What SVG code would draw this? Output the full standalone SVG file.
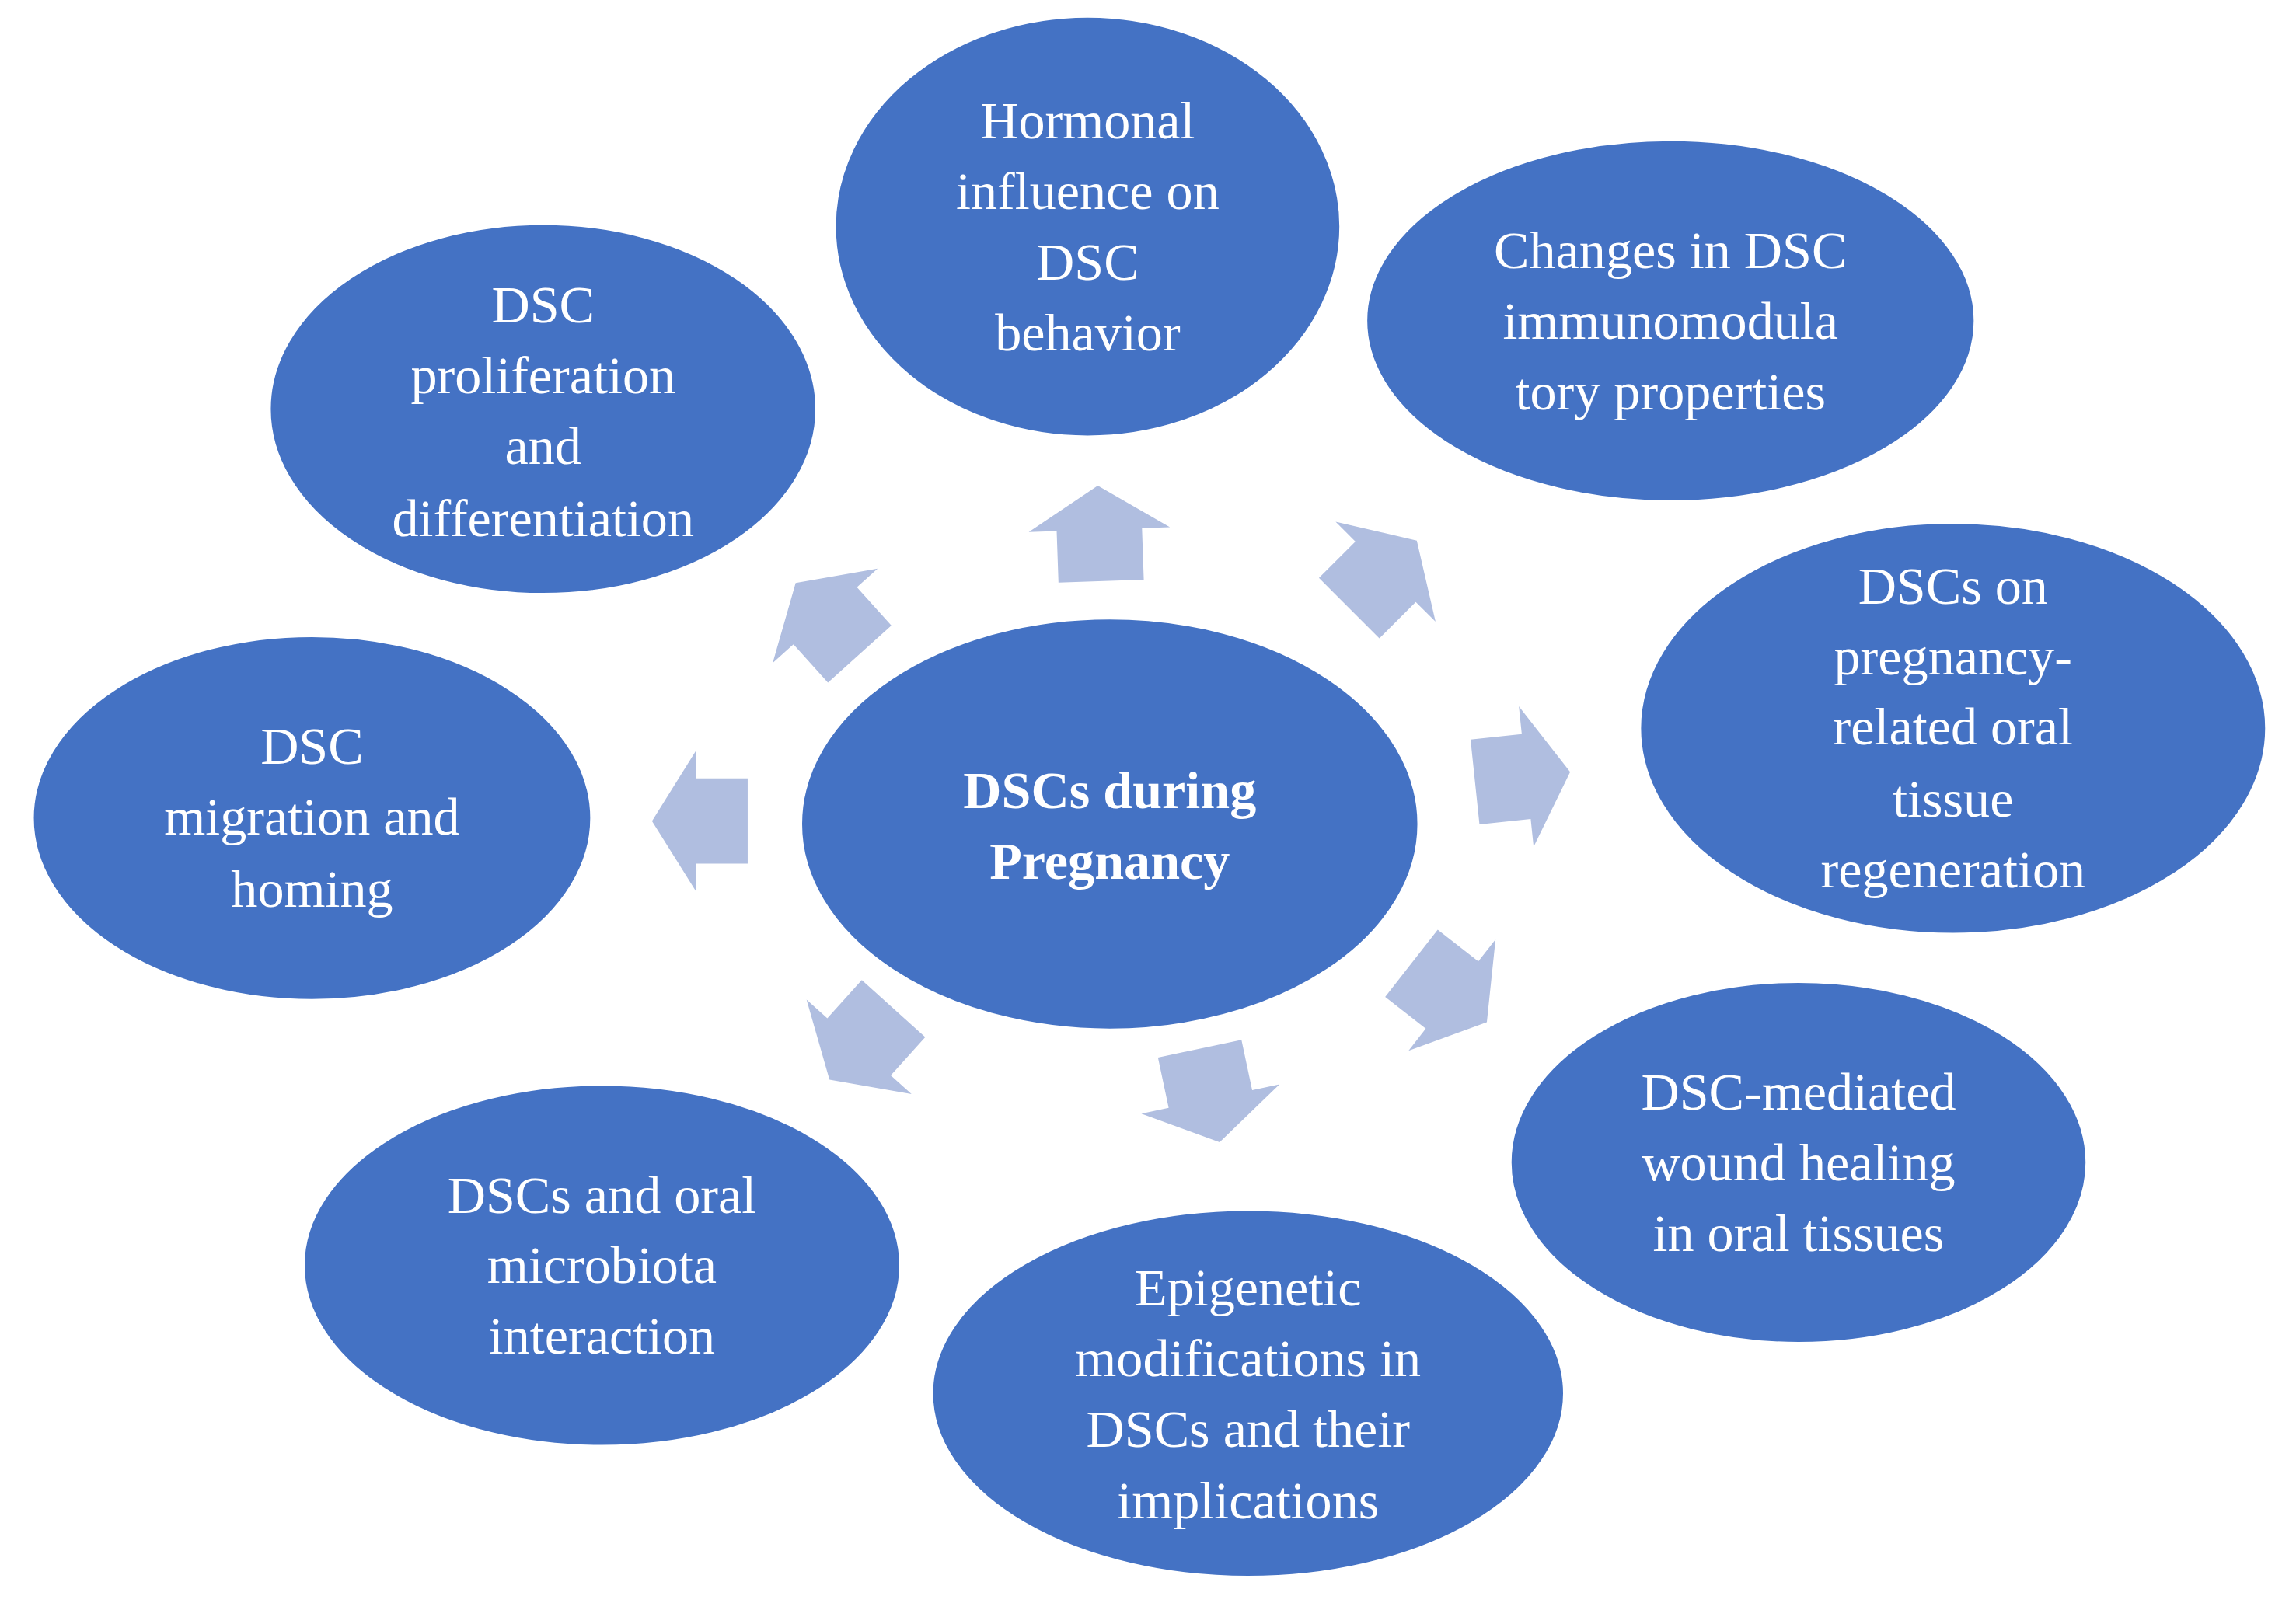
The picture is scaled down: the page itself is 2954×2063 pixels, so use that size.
<svg xmlns="http://www.w3.org/2000/svg" width="2954" height="2063" viewBox="0 0 2954 2063">
<style>
.n{fill:#4472C4;stroke:#fff;stroke-width:2}
.t{fill:#fff;font-family:"Liberation Serif",serif;font-size:36px;text-anchor:middle;dominant-baseline:central}
.b{font-weight:bold}
.a{fill:#B0BEE0}
</style>
<defs><polygon id="arr" points="0,-32 48,-2 29,-2 29,33 -29,33 -29,-2 -48,-2"/></defs>
<rect width="2954" height="2063" fill="#fff"/>
<g transform="scale(1.8936)">
<g id="connectors">
<use href="#arr" class="a" transform="translate(747,362) rotate(-2)"/>
<use href="#arr" class="a" transform="translate(940,390) rotate(45)"/>
<use href="#arr" class="a" transform="translate(1035,528) rotate(84)"/>
<use href="#arr" class="a" transform="translate(985,675) rotate(128)"/>
<use href="#arr" class="a" transform="translate(822,745) rotate(168)"/>
<use href="#arr" class="a" transform="translate(585,710) rotate(222)"/>
<use href="#arr" class="a" transform="translate(475,558) rotate(270)"/>
<use href="#arr" class="a" transform="translate(562,420) rotate(318)"/>
</g>
<g id="center"><ellipse class="n" cx="754" cy="560" rx="210" ry="140"/>
<text class="t b" x="754"><tspan x="754" y="537">DSCs during</tspan><tspan x="754" y="585">Pregnancy</tspan></text></g>
<g id="hormonal"><ellipse class="n" cx="739" cy="154" rx="172" ry="143"/>
<text class="t"><tspan x="739" y="82">Hormonal</tspan><tspan x="739" y="130">influence on</tspan><tspan x="739" y="178">DSC</tspan><tspan x="739" y="226">behavior</tspan></text></g>
<g id="changes"><ellipse class="n" cx="1135" cy="218" rx="207" ry="123"/>
<text class="t"><tspan x="1135" y="170">Changes in DSC</tspan><tspan x="1135" y="218">immunomodula</tspan><tspan x="1135" y="266">tory properties</tspan></text></g>
<g id="regeneration"><ellipse class="n" cx="1327" cy="495" rx="213" ry="140"/>
<text class="t"><tspan x="1327" y="398">DSCs on</tspan><tspan x="1327" y="446">pregnancy-</tspan><tspan x="1327" y="494">related oral</tspan><tspan x="1327" y="543">tissue</tspan><tspan x="1327" y="591">regeneration</tspan></text></g>
<g id="wound"><ellipse class="n" cx="1222" cy="790" rx="196" ry="123"/>
<text class="t"><tspan x="1222" y="742">DSC-mediated</tspan><tspan x="1222" y="790">wound healing</tspan><tspan x="1222" y="838">in oral tissues</tspan></text></g>
<g id="epigenetic"><ellipse class="n" cx="848" cy="947" rx="215" ry="125"/>
<text class="t"><tspan x="848" y="875">Epigenetic</tspan><tspan x="848" y="923">modifications in</tspan><tspan x="848" y="971">DSCs and their</tspan><tspan x="848" y="1020">implications</tspan></text></g>
<g id="microbiota"><ellipse class="n" cx="409" cy="860" rx="203" ry="123"/>
<text class="t"><tspan x="409" y="812">DSCs and oral</tspan><tspan x="409" y="860">microbiota</tspan><tspan x="409" y="908">interaction</tspan></text></g>
<g id="migration"><ellipse class="n" cx="212" cy="556" rx="190" ry="124"/>
<text class="t"><tspan x="212" y="507">DSC</tspan><tspan x="212" y="555">migration and</tspan><tspan x="212" y="604">homing</tspan></text></g>
<g id="proliferation"><ellipse class="n" cx="369" cy="278" rx="186" ry="126"/>
<text class="t"><tspan x="369" y="207">DSC</tspan><tspan x="369" y="255">proliferation</tspan><tspan x="369" y="303">and</tspan><tspan x="369" y="352">differentiation</tspan></text></g>
</g>
</svg>
